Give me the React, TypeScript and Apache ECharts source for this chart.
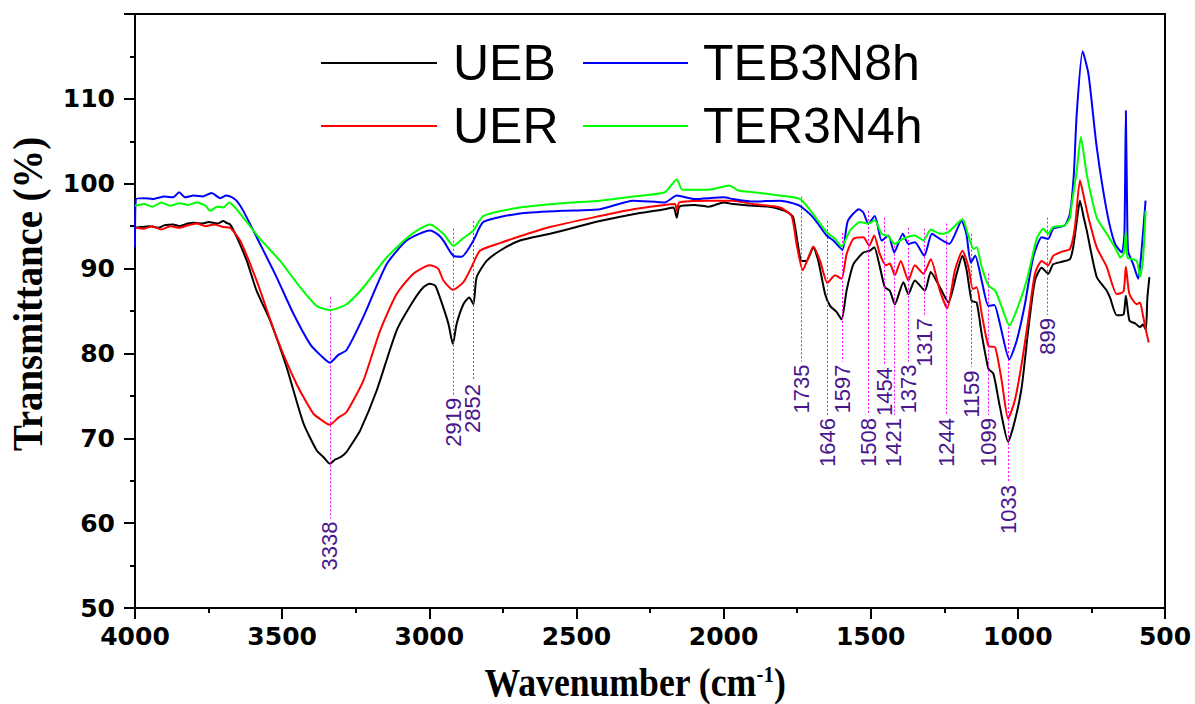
import React, { useEffect, useRef } from "react";
import * as echarts from "echarts";

// FTIR spectra: [wavenumber (cm-1), transmittance (%)]
const UEB: [number, number][] = [
  [4000, 94.8], [3980, 94.9], [3950, 95.0], [3920, 94.8], [3900, 95.1], [3870, 95.2], [3850, 95.0],
  [3820, 95.3], [3800, 95.4], [3770, 95.3], [3750, 95.5], [3720, 95.3], [3700, 95.6], [3690, 95.4],
  [3677, 95.2], [3654, 93.7], [3620, 90.9], [3587, 87.4], [3541, 83.9], [3485, 78.4], [3428, 71.8],
  [3383, 68.6], [3360, 67.8], [3338, 67.0], [3320, 67.5], [3300, 67.8], [3281, 68.4], [3260, 69.5],
  [3235, 70.9], [3179, 75.6], [3111, 82.7], [3054, 86.2], [3020, 87.8], [2998, 88.2], [2980, 88.0],
  [2964, 86.6], [2935, 83.5], [2920, 81.1], [2907, 83.5], [2884, 85.8], [2864, 86.6], [2850, 85.8],
  [2839, 89.0], [2805, 90.9], [2760, 92.1], [2692, 93.3], [2590, 94.1], [2500, 94.9], [2420, 95.6],
  [2307, 96.4], [2200, 97.0], [2170, 97.2], [2159, 96.0], [2150, 97.3], [2100, 97.5], [2050, 97.3],
  [2000, 97.8], [1968, 97.6], [1900, 97.4], [1850, 97.3], [1808, 97.0], [1780, 96.6], [1763, 96.0],
  [1746, 92.5], [1735, 90.9], [1718, 90.9], [1695, 92.5], [1678, 90.9], [1655, 87.0], [1638, 85.6],
  [1616, 84.9], [1599, 84.0], [1582, 87.4], [1559, 90.5], [1525, 91.9], [1503, 92.1], [1488, 92.5],
  [1469, 90.2], [1452, 87.8], [1435, 87.4], [1418, 85.8], [1389, 88.4], [1372, 87.0], [1350, 88.6],
  [1316, 87.4], [1296, 89.6], [1265, 87.8], [1236, 86.0], [1208, 89.4], [1188, 91.5], [1174, 89.8],
  [1157, 86.2], [1140, 86.0], [1123, 82.3], [1100, 78.2], [1083, 77.6], [1061, 73.7], [1033, 69.6],
  [1010, 72.1], [987, 76.0], [965, 82.7], [942, 88.6], [919, 90.1], [897, 89.4], [880, 90.5],
  [850, 90.8], [823, 91.1], [812, 92.5], [800, 95.5], [789, 98.0], [776, 96.0], [766, 94.5],
  [732, 89.0], [700, 87.5], [687, 86.6], [664, 84.5], [641, 84.6], [633, 86.8], [621, 83.9],
  [600, 83.5], [585, 83.1], [575, 83.4], [565, 82.8], [560, 86.5], [553, 89.0],
];

const UER: [number, number][] = [
  [4000, 94.8], [3970, 94.7], [3940, 95.0], [3910, 94.6], [3880, 95.0], [3850, 94.8], [3820, 95.1],
  [3790, 95.3], [3760, 95.0], [3730, 95.2], [3700, 94.9], [3677, 94.8], [3643, 93.3], [3587, 88.6],
  [3519, 81.9], [3451, 76.4], [3394, 72.9], [3360, 72.0], [3338, 71.6], [3310, 72.4], [3281, 73.1],
  [3224, 76.8], [3167, 82.7], [3111, 87.0], [3054, 89.4], [2998, 90.4], [2970, 90.0], [2952, 88.6],
  [2920, 87.5], [2884, 88.4], [2856, 90.2], [2828, 92.1], [2760, 93.0], [2692, 93.8], [2590, 94.9],
  [2420, 96.2], [2307, 97.0], [2200, 97.5], [2165, 97.6], [2159, 96.8], [2150, 97.8], [2050, 98.0],
  [1968, 98.0], [1900, 97.6], [1808, 97.2], [1769, 96.2], [1752, 92.9], [1731, 89.8], [1712, 91.3],
  [1695, 92.6], [1672, 90.9], [1647, 88.3], [1621, 89.2], [1599, 88.8], [1582, 91.7], [1559, 93.5],
  [1525, 93.7], [1505, 92.7], [1488, 93.9], [1469, 91.7], [1448, 90.4], [1435, 90.6], [1418, 89.2],
  [1398, 90.9], [1372, 88.6], [1350, 90.4], [1321, 89.4], [1296, 91.1], [1265, 87.4], [1240, 85.3],
  [1214, 89.8], [1188, 92.1], [1168, 90.2], [1153, 87.6], [1140, 87.8], [1123, 84.7], [1100, 80.9],
  [1077, 80.7], [1055, 76.8], [1033, 72.3], [1010, 74.5], [987, 78.8], [965, 83.9], [942, 89.4],
  [919, 90.9], [897, 90.4], [880, 91.5], [850, 92.0], [823, 92.3], [806, 94.9], [789, 100.4],
  [776, 98.5], [760, 96.0], [732, 92.5], [698, 90.2], [664, 87.0], [641, 87.3], [633, 90.2],
  [621, 87.0], [596, 85.8], [585, 86.0], [575, 84.5], [562, 82.3], [555, 81.3],
];

const TEB3N8h: [number, number][] = [
  [4000, 92.5], [3997, 98.2], [3970, 98.3], [3940, 98.2], [3900, 98.5], [3870, 98.4], [3850, 99.0],
  [3830, 98.4], [3800, 98.6], [3770, 98.5], [3740, 98.9], [3710, 98.3], [3690, 98.6], [3670, 98.4],
  [3655, 98.0], [3632, 96.8], [3575, 92.9], [3519, 89.0], [3462, 84.7], [3405, 81.1], [3370, 79.8],
  [3338, 78.9], [3310, 79.8], [3281, 80.4], [3224, 84.3], [3145, 90.5], [3077, 93.3], [2998, 94.5],
  [2970, 94.0], [2952, 93.3], [2918, 91.5], [2890, 91.4], [2850, 93.3], [2816, 95.5], [2692, 96.5],
  [2550, 96.8], [2420, 97.0], [2307, 98.0], [2200, 97.8], [2159, 98.6], [2100, 98.2], [2000, 98.4],
  [1968, 98.2], [1900, 97.9], [1808, 98.0], [1741, 97.4], [1695, 96.0], [1650, 93.9], [1627, 93.3],
  [1596, 92.2], [1578, 95.6], [1540, 97.0], [1525, 96.6], [1508, 95.3], [1486, 96.2], [1463, 93.3],
  [1440, 93.9], [1420, 91.9], [1391, 94.1], [1372, 92.9], [1350, 93.1], [1318, 91.5], [1292, 94.1],
  [1265, 93.5], [1233, 92.9], [1191, 95.6], [1175, 94.1], [1160, 90.7], [1145, 91.5], [1123, 88.6],
  [1100, 85.6], [1080, 85.7], [1061, 83.5], [1029, 79.3], [1004, 81.5], [976, 85.8], [948, 91.3],
  [919, 93.7], [897, 93.5], [880, 94.7], [840, 95.1], [823, 96.5], [810, 101.0], [800, 108.2],
  [780, 115.6], [760, 112.9], [732, 104.3], [698, 96.8], [670, 92.9], [647, 91.9], [638, 94.0],
  [633, 108.6], [628, 95.0], [625, 92.0], [608, 90.5], [591, 88.8], [580, 92.0], [566, 98.0],
];

const TER3N4h: [number, number][] = [
  [4000, 97.4], [3970, 97.6], [3940, 97.3], [3910, 97.8], [3880, 97.4], [3850, 97.7], [3820, 97.5],
  [3790, 97.8], [3760, 97.4], [3745, 96.8], [3720, 97.3], [3700, 97.2], [3680, 97.8], [3660, 97.2],
  [3632, 96.0], [3575, 93.5], [3507, 90.9], [3439, 87.8], [3383, 85.6], [3338, 85.1], [3281, 85.8],
  [3224, 87.8], [3145, 91.3], [3066, 93.9], [2998, 95.2], [2952, 94.1], [2918, 92.7], [2884, 93.6],
  [2850, 94.5], [2816, 96.2], [2692, 97.2], [2550, 97.7], [2420, 98.0], [2307, 98.5], [2200, 99.0],
  [2159, 100.5], [2140, 99.3], [2050, 99.3], [1980, 99.8], [1950, 99.2], [1900, 99.0], [1808, 98.6],
  [1741, 98.2], [1695, 96.4], [1650, 94.3], [1621, 93.5], [1599, 92.6], [1570, 94.5], [1536, 95.5],
  [1508, 95.3], [1486, 95.7], [1463, 94.1], [1440, 93.8], [1418, 92.9], [1391, 93.5], [1350, 93.9],
  [1321, 93.3], [1296, 94.6], [1265, 94.1], [1236, 94.3], [1188, 95.8], [1170, 94.1], [1151, 92.3],
  [1140, 92.5], [1123, 90.2], [1100, 88.0], [1077, 87.4], [1055, 85.5], [1029, 83.3], [1004, 85.1],
  [970, 88.6], [936, 93.5], [914, 94.7], [897, 94.1], [880, 94.9], [840, 95.1], [823, 96.0],
  [817, 97.6], [800, 101.5], [786, 105.5], [766, 101.1], [732, 96.0], [698, 94.1], [664, 92.1],
  [652, 91.3], [640, 91.8], [633, 94.3], [627, 91.3], [596, 90.9], [585, 89.0], [575, 91.0], [566, 96.8],
];

// Assigned band positions (cm-1), where each guide line starts, and where its label sits
const peakWavenumbers = [3338, 2919, 2852, 1735, 1646, 1597, 1508, 1454, 1421, 1373, 1317, 1244, 1159, 1099, 1033, 899];
const peakLineTops = [86.6, 94.7, 95.6, 98.5, 95.6, 94.2, 96.8, 96.0, 92.7, 94.8, 94.7, 95.3, 94.1, 89.4, 83.1, 96.0];
const peakLabelLevels = [57.3, 71.9, 73.5, 75.8, 69.5, 75.8, 69.5, 75.5, 69.5, 75.8, 81.3, 69.5, 75.2, 69.5, 61.6, 82.0];

const seriesNames = ["UEB", "UER", "TEB3N8h", "TER3N4h"];
const seriesData = [UEB, UER, TEB3N8h, TER3N4h];
const seriesColors = ["#000000", "#ff0000", "#0000ff", "#00ff00"];

const Y_MIN = 50;
const Y_MAX = 120;
const GRID = { left: 135, right: 30, top: 14, bottom: 96 };
const LABEL_FONT = 22;
const LABEL_COLOR = "#4a168e";

export default function App() {
  const ref = useRef<HTMLDivElement>(null);

  useEffect(() => {
    document.body.style.margin = "0";
    const chart = echarts.init(ref.current!, null, { renderer: "svg" });

    const plotHeight = 704 - GRID.top - GRID.bottom;
    const unitsPerPx = (Y_MAX - Y_MIN) / plotHeight;

    // guide lines stop just above their rotated labels
    const guideLines = peakWavenumbers.map((wn, i) => {
      const halfLabel = (String(wn).length * 0.556 * LABEL_FONT) / 2 + 3;
      return [
        { coord: [wn, peakLineTops[i]] },
        { coord: [wn, peakLabelLevels[i] + halfLabel * unitsPerPx] },
      ];
    });

    const axisText = {
      color: "#000",
      fontFamily: "'DejaVu Sans', Verdana, sans-serif",
      fontWeight: "bold" as const,
      fontSize: 25,
      formatter: (v: number) => String(v),
    };
    const axisStroke = { color: "#000", width: 2 };

    const spectra = seriesNames.map((name, i) => ({
      name,
      type: "line",
      data: seriesData[i],
      symbol: "none",
      showSymbol: false,
      smooth: 0.2,
      lineStyle: { color: seriesColors[i], width: 2 },
      z: 3 + i,
      silent: true,
    }));

    const legendRows = [
      { name: seriesNames[0], color: seriesColors[0], x1: 321, x2: 437, tx: 453, y: 63 },
      { name: seriesNames[1], color: seriesColors[1], x1: 321, x2: 437, tx: 453, y: 126 },
      { name: seriesNames[2], color: seriesColors[2], x1: 583, x2: 688, tx: 703, y: 63 },
      { name: seriesNames[3], color: seriesColors[3], x1: 583, x2: 688, tx: 703, y: 126 },
    ];

    const legendGraphics = legendRows.flatMap((r) => [
      {
        type: "line",
        shape: { x1: r.x1, y1: r.y, x2: r.x2, y2: r.y },
        style: { stroke: r.color, lineWidth: 2 },
        silent: true,
      },
      {
        type: "text",
        x: r.tx,
        y: r.y,
        style: {
          text: r.name,
          fill: "#000",
          font: "50px 'Liberation Sans', Arial, sans-serif",
          align: "left",
          verticalAlign: "middle",
        },
        silent: true,
      },
    ]);

    const titleFamily = "'Liberation Serif', 'Times New Roman', serif";

    chart.setOption({
      animation: false,
      backgroundColor: "#ffffff",
      grid: {
        ...GRID,
        show: true,
        borderColor: "#000",
        borderWidth: 2,
        backgroundColor: "transparent",
        containLabel: false,
      },
      xAxis: {
        type: "value",
        min: 500,
        max: 4000,
        interval: 500,
        inverse: true,
        axisLine: { show: true, onZero: false, lineStyle: axisStroke },
        axisTick: { show: true, inside: false, length: 11, lineStyle: axisStroke },
        minorTick: { show: true, splitNumber: 2, length: 5, lineStyle: axisStroke },
        splitLine: { show: false },
        minorSplitLine: { show: false },
        axisLabel: { ...axisText, margin: 16 },
      },
      yAxis: {
        type: "value",
        min: Y_MIN,
        max: Y_MAX,
        interval: 10,
        axisLine: { show: true, onZero: false, lineStyle: axisStroke },
        axisTick: { show: true, inside: false, length: 11, lineStyle: axisStroke },
        minorTick: { show: true, splitNumber: 2, length: 5, lineStyle: axisStroke },
        splitLine: { show: false },
        minorSplitLine: { show: false },
        axisLabel: { ...axisText, margin: 20, showMaxLabel: false },
      },
      series: [
        ...spectra,
        {
          name: "guides",
          type: "line",
          data: [],
          silent: true,
          z: 2,
          markLine: {
            silent: true,
            symbol: ["none", "none"],
            label: { show: false },
            lineStyle: { color: "#ff00ff", type: [2, 2], width: 1, opacity: 1 },
            data: guideLines,
          },
        },
        {
          name: "bands",
          type: "scatter",
          silent: true,
          symbolSize: 1,
          itemStyle: { color: "rgba(0,0,0,0)" },
          z: 10,
          data: peakWavenumbers.map((wn, i) => [wn, peakLabelLevels[i]]),
          label: {
            show: true,
            position: "inside",
            rotate: 90,
            align: "center",
            verticalAlign: "middle",
            formatter: (p: any) => String(p.value[0]),
            color: LABEL_COLOR,
            opacity: 1,
            textBorderWidth: 0,
            textBorderColor: "transparent",
            fontFamily: "'Liberation Sans', Arial, sans-serif",
            fontSize: LABEL_FONT,
          },
        },
      ],
      graphic: [
        ...legendGraphics,
        {
          type: "text",
          x: 635,
          y: 682,
          scaleX: 0.87,
          silent: true,
          style: {
            text: "{m|Wavenumber (cm}{s|-1}{m|)}",
            align: "center",
            verticalAlign: "middle",
            fill: "#000",
            rich: {
              m: { fontFamily: titleFamily, fontWeight: "bold", fontSize: 41, fill: "#000" },
              s: {
                fontFamily: titleFamily,
                fontWeight: "bold",
                fontSize: 24,
                fill: "#000",
                verticalAlign: "top",
              },
            },
          },
        },
        {
          type: "text",
          x: 28,
          y: 294,
          rotation: Math.PI / 2,
          scaleX: 0.9,
          silent: true,
          style: {
            text: "Transmittance (%)",
            align: "center",
            verticalAlign: "middle",
            fill: "#000",
            font: `bold 43px ${titleFamily}`,
          },
        },
      ],
    });

    return () => chart.dispose();
  }, []);

  return <div ref={ref} style={{ width: 1195, height: 704 }} />;
}
